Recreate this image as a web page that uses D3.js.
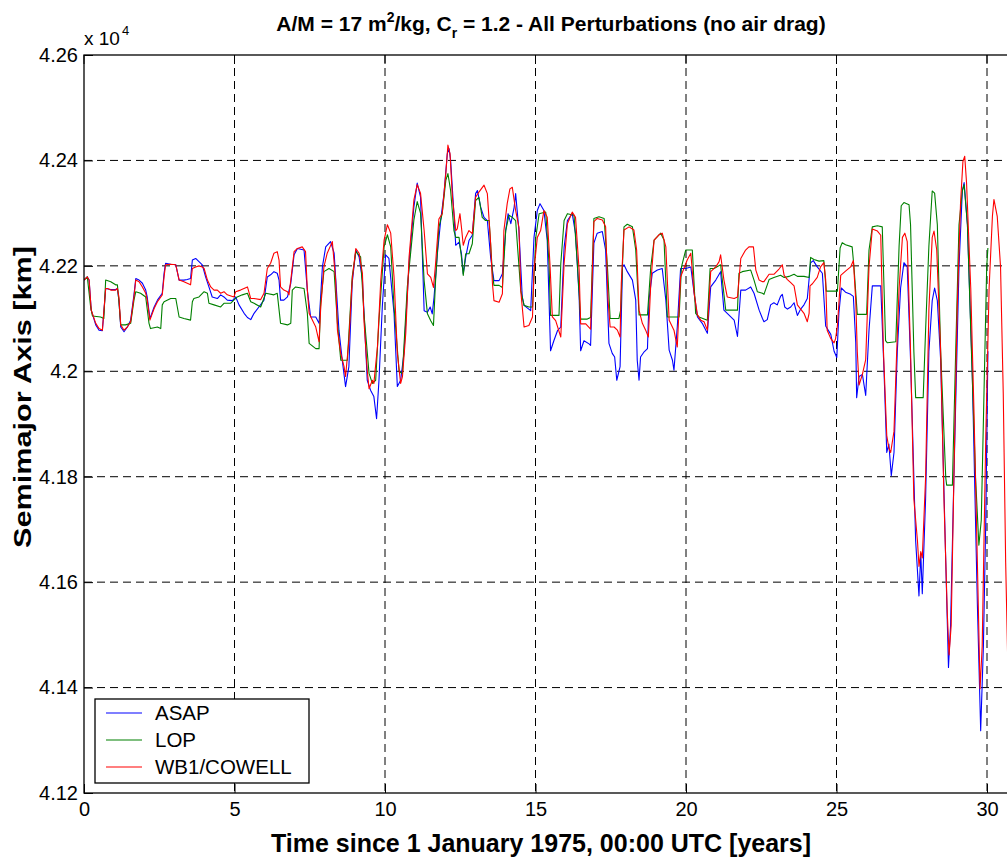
<!DOCTYPE html>
<html><head><meta charset="utf-8">
<script src="https://cdn.jsdelivr.net/npm/d3@7"></script>
<style>body{margin:0;background:#fff}svg{display:block}text{font-family:Arial,"Liberation Sans",Helvetica,sans-serif}</style>
</head><body><svg id="c" width="1007" height="858"></svg>
<script>
const xTicks=[0,5,10,15,20,25,30];
const yTicks=[41200,41400,41600,41800,42000,42200,42400,42600];
const yTickLabels=["4.12","4.14","4.16","4.18","4.2","4.22","4.24","4.26"];
const seriesNames=["ASAP","LOP","WB1/COWELL"];
const seriesColors=["#0000ff","#008000","#ff0000"];

const asap=[[0.00,42173],[0.11,42179],[0.17,42173],[0.24,42116],[0.39,42088],[0.50,42078],[0.61,42077],[0.72,42157],[0.89,42155],[1.05,42155],[1.11,42157],[1.16,42135],[1.22,42084],[1.33,42075],[1.44,42084],[1.55,42097],[1.66,42145],[1.72,42176],[1.83,42173],[1.94,42167],[2.05,42154],[2.10,42141],[2.19,42100],[2.33,42122],[2.44,42135],[2.60,42148],[2.66,42186],[2.71,42205],[2.88,42203],[3.05,42202],[3.16,42173],[3.32,42173],[3.43,42174],[3.54,42176],[3.60,42211],[3.71,42214],[3.82,42208],[3.93,42202],[4.04,42179],[4.15,42160],[4.26,42141],[4.43,42138],[4.54,42145],[4.65,42141],[4.76,42135],[4.93,42134],[5.04,42141],[5.15,42126],[5.32,42110],[5.43,42102],[5.54,42098],
[5.65,42110],[5.81,42122],[5.98,42135],[6.09,42179],[6.20,42183],[6.31,42189],[6.42,42186],[6.48,42173],[6.53,42135],[6.64,42135],[6.76,42141],[6.87,42167],[6.98,42221],[7.09,42233],[7.31,42230],[7.42,42154],[7.53,42103],[7.70,42103],[7.81,42091],[7.92,42198],[8.03,42236],[8.19,42246],[8.31,42224],[8.47,42078],[8.58,42021],[8.69,41971],[8.80,42009],[8.91,42167],[9.03,42230],[9.14,42217],[9.25,42173],[9.41,41983],[9.52,41964],[9.63,41952],[9.72,41910],[9.80,41983],[9.91,42122],[10.02,42221],[10.13,42214],[10.30,42110],[10.41,41971],[10.52,41983],[10.63,42034],[10.80,42205],[10.96,42312],[11.07,42357],[11.18,42331],
[11.30,42115],[11.41,42112],[11.50,42122],[11.57,42109],[11.63,42141],[11.74,42223],[11.85,42286],[11.96,42337],[12.07,42413],[12.13,42422],[12.18,42400],[12.29,42299],[12.35,42239],[12.46,42245],[12.54,42223],[12.60,42185],[12.68,42216],[12.79,42248],[12.90,42258],[13.01,42337],[13.07,42343],[13.18,42311],[13.29,42292],[13.40,42286],[13.51,42216],[13.62,42172],[13.79,42172],[13.90,42185],[14.01,42267],[14.09,42299],[14.18,42280],[14.29,42311],[14.34,42337],[14.45,42267],[14.56,42141],[14.62,42125],[14.84,42115],[14.95,42254],[15.06,42305],[15.15,42318],[15.28,42305],[15.39,42248],[15.50,42039],[15.61,42058],[15.73,42077],[15.84,42084],[15.95,42235],[16.06,42286],[16.22,42299],[16.33,42261],[16.45,42141],[16.50,42039],[16.61,42058],[16.78,42052],[16.83,42049],
[16.94,42243],[17.05,42262],[17.22,42265],[17.33,42230],[17.44,42053],[17.55,42034],[17.63,42027],[17.70,41983],[17.81,42009],[17.89,42198],[17.94,42202],[18.05,42189],[18.22,42173],[18.33,42135],[18.38,42021],[18.44,41983],[18.49,42027],[18.61,42037],[18.72,42043],[18.77,42135],[18.88,42186],[19.05,42192],[19.21,42195],[19.33,42135],[19.44,42040],[19.55,42021],[19.60,42002],[19.71,42084],[19.82,42195],[19.99,42195],[20.16,42198],[20.27,42148],[20.38,42103],[20.54,42091],[20.71,42072],[20.82,42160],[20.99,42173],[21.15,42189],[21.26,42116],[21.37,42110],[21.60,42097],[21.71,42066],[21.82,42154],[21.98,42154],[22.15,42160],[22.26,42148],[22.43,42116],[22.54,42100],
[22.59,42094],[22.70,42098],[22.81,42126],[22.92,42130],[23.03,42126],[23.14,42142],[23.20,42146],[23.28,42122],[23.37,42118],[23.48,42122],[23.59,42130],[23.70,42106],[23.81,42118],[23.92,42126],[24.03,42138],[24.14,42206],[24.23,42210],[24.36,42198],[24.53,42186],[24.64,42086],[24.81,42070],[24.92,42038],[25.01,42026],[25.08,42110],[25.16,42158],[25.30,42150],[25.47,42146],[25.56,42142],[25.64,42054],[25.67,41950],[25.75,41990],[25.86,41994],[25.97,41954],[26.08,42078],[26.19,42162],[26.47,42162],[26.58,41998],[26.67,41846],[26.74,41862],[26.82,41802],[26.91,41846],[27.02,42038],[27.13,42158],[27.24,42206],[27.35,42198],[27.46,42022],[27.63,41678],[27.74,41574],[27.80,41654],[27.85,41578],[27.96,41758],[28.07,42038],[28.18,42134],[28.26,42158],[28.35,42134],[28.46,42022],[28.63,41638],[28.72,41438],[28.79,41518],[28.90,41798],[29.07,42198],[29.18,42342],[29.24,42358],[29.35,42278],[29.51,41998],[29.68,41558],[29.79,41318],[29.88,41478],[29.96,41718],[30.03,42038]];

const lop=[[0.00,42173],[0.11,42179],[0.22,42122],[0.28,42105],[0.55,42103],[0.66,42100],[0.72,42173],[0.89,42170],[1.05,42164],[1.11,42164],[1.16,42132],[1.22,42088],[1.38,42088],[1.55,42091],[1.66,42135],[1.72,42151],[1.88,42148],[2.05,42141],[2.16,42091],[2.21,42081],[2.44,42084],[2.55,42081],[2.60,42126],[2.66,42132],[2.88,42138],[3.05,42138],[3.10,42122],[3.16,42103],[3.32,42100],[3.54,42097],[3.60,42132],[3.65,42138],[3.82,42141],[3.99,42151],[4.10,42148],[4.15,42129],[4.32,42126],[4.54,42122],[4.65,42129],[4.87,42129],[4.98,42135],[5.09,42141],[5.26,42145],[5.43,42148],[5.54,42132],
[5.65,42129],[5.87,42122],[6.04,42148],[6.31,42145],[6.42,42148],[6.53,42091],[6.76,42088],[6.87,42091],[6.92,42154],[7.03,42160],[7.31,42157],[7.42,42110],[7.48,42053],[7.70,42043],[7.81,42043],[7.86,42129],[7.97,42189],[8.14,42195],[8.31,42189],[8.42,42091],[8.53,42021],[8.75,42021],[8.91,42179],[9.03,42227],[9.19,42217],[9.30,42110],[9.47,41996],[9.58,41977],[9.69,41983],[9.80,42097],[9.97,42236],[10.08,42259],[10.19,42236],[10.30,42122],[10.47,41999],[10.58,41996],[10.74,42160],[10.96,42287],[11.07,42322],[11.18,42300],
[11.30,42172],[11.41,42109],[11.52,42096],[11.61,42087],[11.68,42172],[11.79,42273],[11.90,42299],[12.02,42362],[12.09,42375],[12.18,42343],[12.29,42267],[12.35,42254],[12.46,42254],[12.54,42216],[12.60,42182],[12.68,42223],[12.79,42223],[12.90,42242],[13.01,42324],[13.12,42330],[13.23,42292],[13.34,42286],[13.46,42286],[13.57,42185],[13.62,42163],[13.79,42163],[13.90,42159],[14.01,42267],[14.12,42296],[14.23,42292],[14.34,42286],[14.51,42153],[14.62,42125],[14.78,42122],[14.90,42122],[15.01,42254],[15.12,42299],[15.34,42302],[15.45,42204],[15.50,42106],[15.78,42106],[15.84,42204],[15.95,42286],[16.06,42299],[16.28,42296],[16.39,42204],[16.50,42099],[16.72,42099],[16.83,42102],
[16.94,42290],[17.11,42293],[17.28,42290],[17.39,42198],[17.48,42100],[17.77,42100],[17.83,42116],[17.94,42274],[18.05,42279],[18.22,42274],[18.33,42230],[18.44,42107],[18.72,42107],[18.83,42198],[18.94,42249],[19.16,42262],[19.27,42249],[19.38,42103],[19.77,42103],[19.85,42198],[19.99,42230],[20.21,42230],[20.32,42110],[20.43,42103],[20.71,42097],[20.80,42195],[20.93,42195],[21.15,42202],[21.32,42116],[21.71,42116],[21.76,42186],[21.87,42189],[22.15,42192],[22.26,42173],[22.37,42151],[22.54,42148],
[22.59,42146],[22.76,42174],[22.92,42178],[23.14,42182],[23.26,42178],[23.42,42180],[23.59,42184],[23.70,42180],[23.92,42180],[24.09,42178],[24.14,42216],[24.25,42212],[24.42,42209],[24.58,42210],[24.66,42152],[24.81,42152],[25.03,42152],[25.12,42234],[25.19,42244],[25.30,42240],[25.52,42236],[25.58,42198],[25.69,42108],[25.91,42108],[26.00,42108],[26.08,42230],[26.19,42274],[26.36,42276],[26.52,42274],[26.63,42058],[26.69,42054],[26.97,42056],[27.08,42238],[27.15,42314],[27.24,42320],[27.41,42316],[27.46,42278],[27.57,42038],[27.63,41950],[27.88,41950],[27.96,42078],[28.07,42238],[28.18,42342],[28.26,42338],[28.35,42278],[28.46,42038],[28.63,41798],[28.66,41784],[28.85,41784],[28.96,42038],[29.07,42278],[29.18,42342],[29.24,42354],[29.35,42278],[29.46,42078],[29.62,41798],[29.73,41670],[29.81,41718],[29.90,41958],[29.99,42198],[30.03,42234]];

const wb1=[[0.00,42173],[0.11,42179],[0.17,42173],[0.24,42116],[0.39,42091],[0.50,42081],[0.61,42078],[0.72,42157],[0.78,42157],[0.89,42154],[1.05,42154],[1.11,42157],[1.16,42141],[1.22,42088],[1.33,42078],[1.44,42084],[1.55,42094],[1.66,42141],[1.72,42173],[1.83,42170],[1.94,42160],[2.05,42148],[2.10,42135],[2.19,42097],[2.33,42119],[2.44,42132],[2.60,42145],[2.66,42179],[2.71,42202],[2.88,42203],[3.05,42202],[3.16,42173],[3.32,42170],[3.43,42167],[3.54,42164],[3.60,42195],[3.71,42198],[3.82,42200],[3.93,42198],[3.99,42195],[4.10,42173],[4.21,42160],[4.32,42154],[4.43,42154],[4.54,42148],[4.65,42151],[4.76,42145],[4.98,42141],[5.04,42151],[5.20,42154],[5.43,42160],[5.54,42138],
[5.65,42138],[5.87,42136],[5.98,42148],[6.09,42195],[6.20,42205],[6.31,42224],[6.42,42227],[6.48,42211],[6.53,42160],[6.64,42154],[6.76,42151],[6.81,42145],[6.87,42173],[6.98,42227],[7.09,42233],[7.25,42236],[7.36,42227],[7.42,42154],[7.48,42110],[7.59,42097],[7.70,42084],[7.81,42056],[7.86,42116],[7.97,42198],[8.08,42224],[8.25,42246],[8.36,42173],[8.42,42078],[8.53,42034],[8.64,42009],[8.69,41990],[8.80,42059],[8.91,42173],[9.03,42233],[9.14,42224],[9.25,42186],[9.30,42097],[9.41,42002],[9.47,41967],[9.58,41983],[9.63,41977],[9.75,42047],[9.86,42173],[9.97,42249],[10.08,42278],[10.19,42262],[10.30,42179],[10.41,42034],[10.52,41977],[10.58,41990],[10.69,42072],[10.80,42217],[10.96,42325],[11.07,42354],[11.18,42338],
[11.30,42267],[11.41,42185],[11.52,42178],[11.61,42159],[11.68,42204],[11.79,42289],[11.90,42299],[12.02,42375],[12.09,42429],[12.16,42413],[12.24,42330],[12.35,42267],[12.40,42270],[12.49,42299],[12.54,42273],[12.60,42239],[12.68,42254],[12.79,42267],[12.90,42261],[13.01,42330],[13.12,42340],[13.29,42353],[13.40,42337],[13.51,42242],[13.57,42166],[13.62,42134],[13.79,42131],[13.90,42147],[13.95,42267],[14.06,42318],[14.15,42346],[14.23,42349],[14.34,42305],[14.45,42273],[14.51,42153],[14.62,42084],[14.78,42087],[14.90,42103],[14.95,42191],[15.06,42254],[15.17,42267],[15.28,42305],[15.39,42292],[15.48,42204],[15.56,42103],[15.67,42096],[15.84,42065],[15.95,42204],[16.06,42280],[16.22,42302],[16.33,42292],[16.45,42191],[16.50,42090],[16.67,42090],[16.83,42080],
[16.94,42284],[17.05,42290],[17.22,42287],[17.33,42274],[17.41,42135],[17.48,42084],[17.61,42084],[17.72,42078],[17.81,42065],[17.85,42167],[17.94,42268],[18.11,42274],[18.27,42268],[18.36,42230],[18.44,42116],[18.55,42091],[18.66,42078],[18.75,42065],[18.83,42167],[18.94,42249],[19.10,42259],[19.21,42262],[19.33,42236],[19.44,42097],[19.60,42078],[19.71,42046],[19.82,42179],[19.93,42195],[20.04,42211],[20.16,42224],[20.27,42148],[20.38,42107],[20.49,42097],[20.60,42094],[20.71,42078],[20.82,42189],[20.99,42198],[21.10,42208],[21.15,42221],[21.26,42173],[21.37,42141],[21.60,42138],[21.71,42141],[21.82,42214],[21.98,42230],[22.09,42236],[22.24,42236],[22.32,42192],[22.43,42173],[22.54,42170],
[22.59,42170],[22.76,42184],[22.92,42184],[23.09,42194],[23.20,42202],[23.26,42182],[23.37,42174],[23.48,42168],[23.59,42162],[23.70,42126],[23.81,42118],[23.92,42110],[24.03,42094],[24.09,42110],[24.12,42162],[24.20,42166],[24.36,42178],[24.47,42198],[24.58,42206],[24.64,42174],[24.69,42078],[24.81,42062],[24.92,42054],[24.97,42062],[25.03,42086],[25.14,42182],[25.30,42190],[25.47,42198],[25.56,42210],[25.64,42134],[25.69,42038],[25.75,41974],[25.86,41994],[25.97,42022],[26.08,42198],[26.19,42270],[26.36,42266],[26.47,42258],[26.56,42038],[26.67,41878],[26.74,41854],[26.80,41846],[26.91,41886],[27.00,42038],[27.08,42158],[27.19,42254],[27.27,42262],[27.35,42246],[27.46,42038],[27.57,41758],[27.69,41678],[27.74,41630],[27.80,41658],[27.85,41646],[27.96,41798],[28.07,42118],[28.18,42254],[28.24,42266],[28.33,42230],[28.46,42038],[28.57,41758],[28.68,41542],[28.74,41462],[28.81,41518],[28.90,41798],[29.01,42118],[29.12,42318],[29.20,42398],[29.26,42408],[29.32,42358],[29.46,42158],[29.57,41918],[29.68,41638],[29.77,41398],[29.84,41478],[29.96,41878],[30.07,42158],[30.18,42294],[30.23,42326],[30.34,42294],[30.45,42198],[30.54,41958],[30.62,41638],[30.70,41420]];

const seriesData=[asap,lop,wb1];

const svg=d3.select("#c");
const L=84,T=55,B=793;
const x=d3.scaleLinear().domain([0,31]).range([L,L+31*30.1]);
const y=d3.scaleLinear().domain([41200,42600]).range([B,T]);
const R=x(31);

svg.append("defs").append("clipPath").attr("id","pc").append("rect")
  .attr("x",L).attr("y",T).attr("width",R-L).attr("height",B-T);

// grid
const g=svg.append("g");
g.selectAll(".vg").data(xTicks.filter(d=>d>0)).join("line")
  .attr("x1",d=>x(d)).attr("x2",d=>x(d)).attr("y1",T).attr("y2",B)
  .attr("stroke","#000").attr("stroke-width",1).attr("stroke-dasharray","8,5");
g.selectAll(".hg").data(yTicks.slice(1,-1)).join("line")
  .attr("x1",L).attr("x2",R).attr("y1",d=>y(d)).attr("y2",d=>y(d))
  .attr("stroke","#000").attr("stroke-width",1).attr("stroke-dasharray","8,5");

// data lines
const line=d3.line().x(d=>x(d[0])).y(d=>y(d[1]));
const lg=svg.append("g").attr("clip-path","url(#pc)");
seriesData.forEach((s,i)=>{
  lg.append("path").datum(s).attr("d",line).attr("fill","none")
    .attr("stroke",seriesColors[i]).attr("stroke-width",1.1).attr("stroke-linejoin","round");
});

// axes
const ax=svg.append("g").attr("transform",`translate(0,${B})`)
  .call(d3.axisBottom(x).tickValues(xTicks).tickFormat(d3.format("d")).tickSizeInner(-9).tickSizeOuter(0).tickPadding(9));
const ay=svg.append("g").attr("transform",`translate(${L},0)`)
  .call(d3.axisLeft(y).tickValues(yTicks).tickFormat((d,i)=>yTickLabels[i]).tickSizeInner(-9).tickSizeOuter(0).tickPadding(6));
[ax,ay].forEach(a=>{a.select(".domain").remove();
  a.selectAll("text").attr("font-size",20).attr("fill","#000").style("font-family","Arial, 'Liberation Sans', sans-serif");
  a.selectAll("line").attr("stroke","#000");});
// top ticks
svg.append("g").selectAll("line").data(xTicks).join("line")
  .attr("x1",d=>x(d)).attr("x2",d=>x(d)).attr("y1",T).attr("y2",T+9).attr("stroke","#000");
// box
svg.append("rect").attr("x",L).attr("y",T).attr("width",R-L).attr("height",B-T)
  .attr("fill","none").attr("stroke","#000").attr("stroke-width",1.3);

// exponent label
const ex=svg.append("text").attr("x",84).attr("y",45).attr("font-size",19).attr("fill","#000");
ex.append("tspan").text("x 10");
ex.append("tspan").attr("dy",-10).attr("dx",2).attr("font-size",13).text("4");

// title
const tt=svg.append("text").attr("x",551).attr("y",31).attr("text-anchor","middle")
  .attr("font-size",21).attr("font-weight","bold").attr("fill","#000");
tt.append("tspan").text("A/M = 17 m");
tt.append("tspan").attr("dy",-9).attr("font-size",14).text("2");
tt.append("tspan").attr("dy",9).text("/kg, C");
tt.append("tspan").attr("dy",7).attr("font-size",14).text("r");
tt.append("tspan").attr("dy",-7).text(" = 1.2 - All Perturbations (no air drag)");

// axis labels
svg.append("text").attr("x",541).attr("y",852).attr("text-anchor","middle")
  .attr("font-size",25).attr("font-weight","bold").attr("fill","#000")
  .text("Time since 1 January 1975, 00:00 UTC [years]");
svg.append("text").attr("transform","translate(31,397) rotate(-90)").attr("text-anchor","middle")
  .attr("font-size",24).attr("font-weight","bold").attr("fill","#000")
  .attr("textLength",302).attr("lengthAdjust","spacingAndGlyphs")
  .text("Semimajor Axis [km]");

// legend
const leg=svg.append("g");
leg.append("rect").attr("x",95).attr("y",699).attr("width",214).attr("height",84)
  .attr("fill","#fff").attr("stroke","#000").attr("stroke-width",1.3);
seriesNames.forEach((n,i)=>{
  const yy=713+i*27;
  leg.append("line").attr("x1",106).attr("x2",142).attr("y1",yy).attr("y2",yy)
    .attr("stroke",seriesColors[i]).attr("stroke-width",1.1);
  leg.append("text").attr("x",155).attr("y",yy+7).attr("font-size",20.5).attr("fill","#000").text(n);
});
</script></body></html>
